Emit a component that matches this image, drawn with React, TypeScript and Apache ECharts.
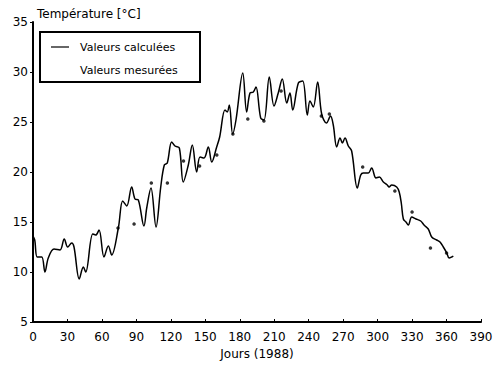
import React, { useEffect, useRef } from "react";
import * as echarts from "echarts";

const calcDays = [0, 1.5, 3.7, 7.6, 10.4, 13.3, 18.3, 23.5, 27.2, 30.2, 33.7, 35.7, 40.3, 43.8, 45.9, 52, 54.6, 57.5, 61.8, 65.6, 68.5, 74.3, 78.1, 81.6, 85.9, 88.8, 91.7, 96.6, 99, 102.7, 107.1, 111.2, 114.3, 116.9, 120.7, 123.6, 127.4, 130.8, 135.2, 138.7, 142.5, 145.4, 148.9, 152.6, 155.6, 159.9, 162.5, 167.1, 169.1, 170.9, 173.8, 176.7, 182.6, 186, 188.9, 191.8, 194.1, 198.2, 201.1, 205.7, 209.8, 213.5, 217, 220.9, 223.7, 226.1, 231, 234.8, 238.8, 241.1, 244, 247.8, 251.3, 255.5, 259, 261.4, 264.4, 267.3, 269.3, 271.6, 274.5, 277.4, 282.3, 285.3, 287.5, 291.9, 294.8, 298.6, 301.5, 305, 308.4, 310, 312.3, 316.6, 318.8, 320.6, 322.4, 324.7, 326.7, 329.7, 333.4, 337.5, 340.4, 344.1, 347.1, 351.4, 354.3, 357.2, 360.2, 362.2, 364.5, 365.9];
const calcTemps = [13.6, 13.2, 11.5, 11.5, 10.0, 11.4, 12.3, 12.2, 13.3, 12.5, 12.9, 12.5, 9.3, 10.5, 10.0, 13.8, 13.7, 14.2, 11.5, 12.6, 11.7, 14.4, 17.1, 16.6, 18.5, 17.3, 17.2, 14.6, 16.4, 18.4, 14.5, 18.5, 20.7, 20.9, 23.0, 22.6, 22.4, 19.0, 20.7, 22.7, 20.0, 21.5, 21.4, 22.5, 21.0, 22.5, 23.5, 26.2, 26.0, 26.7, 23.8, 25.2, 29.9, 26.0, 27.9, 28.0, 28.5, 25.4, 25.2, 29.5, 26.6, 27.9, 29.3, 26.9, 27.9, 26.2, 28.9, 29.1, 25.7, 27.1, 26.5, 29.0, 25.8, 24.9, 25.6, 24.7, 22.5, 23.4, 22.9, 23.4, 22.6, 22.1, 18.4, 19.7, 19.9, 19.9, 20.4, 19.4, 19.5, 19.0, 18.7, 18.5, 18.7, 18.5, 18.0, 16.9, 15.3, 15.0, 14.7, 15.5, 15.3, 15.1, 14.7, 14.3, 13.5, 13.2, 13.0, 12.5, 11.9, 11.4, 11.5, 11.6];

const measDays = [74, 88, 103, 117, 131, 145, 160, 174, 187, 201, 216, 251, 258, 287, 315, 330, 346, 360];
const measTemps = [14.4, 14.8, 18.9, 18.9, 21.1, 20.6, 21.7, 23.8, 25.3, 25.1, 28.1, 25.6, 25.8, 20.5, 18.1, 16.0, 12.4, 11.9];

const title = "Température [°C]";
const xName = "Jours (1988)";
const legendCalc = "Valeurs calculées";
const legendMeas = "Valeurs mesurées";

const FONT = "'Liberation Sans', Arial, sans-serif";
const WIDE = "'DejaVu Sans', sans-serif";

export default function App() {
  const ref = useRef<HTMLDivElement>(null);
  useEffect(() => {
    const chart = echarts.init(ref.current!, null, { renderer: "svg" });
    chart.setOption({
      animation: false,
      backgroundColor: "#ffffff",
      title: {
        text: title,
        left: 32,
        top: 3,
        textStyle: { fontFamily: WIDE, fontSize: 12, fontWeight: "normal", color: "#000" },
      },
      grid: { left: 33, right: 19, top: 22, bottom: 47 },
      xAxis: {
        type: "value",
        min: 0,
        max: 390,
        interval: 30,
        name: xName,
        nameLocation: "middle",
        nameGap: 26,
        nameTextStyle: { fontFamily: WIDE, fontSize: 12, color: "#000" },
        axisLine: { lineStyle: { color: "#000", width: 2 } },
        axisTick: { inside: true, length: 3, lineStyle: { color: "#000", width: 1 } },
        axisLabel: { margin: 9, fontFamily: WIDE, fontSize: 12, color: "#000" },
        splitLine: { show: false },
      },
      yAxis: {
        type: "value",
        min: 5,
        max: 35,
        interval: 5,
        axisLine: { show: true, lineStyle: { color: "#000", width: 2 } },
        axisTick: { show: true, inside: false, length: 3, lineStyle: { color: "#000", width: 1 } },
        axisLabel: { margin: 5, fontFamily: WIDE, fontSize: 12, color: "#000" },
        splitLine: { show: false },
      },
      series: [
        {
          name: legendCalc,
          type: "line",
          data: calcDays.map((d, i) => [d, calcTemps[i]]),
          smooth: 0.35,
          showSymbol: false,
          lineStyle: { color: "#000", width: 1.5 },
        },
        {
          name: legendMeas,
          type: "scatter",
          data: measDays.map((d, i) => [d, measTemps[i]]),
          symbol: "circle",
          symbolSize: 3.5,
          itemStyle: { color: "#000" },
          z: 5,
        },
      ],
      graphic: [
        {
          type: "rect",
          shape: { x: 40, y: 32, width: 160, height: 50 },
          style: { fill: "#fff", stroke: "#000", lineWidth: 2 },
          z: 10,
        },
        {
          type: "line",
          shape: { x1: 51, y1: 47, x2: 69, y2: 47 },
          style: { stroke: "#000", lineWidth: 1.2 },
          z: 11,
        },
        {
          type: "text",
          x: 80,
          y: 47,
          style: { text: legendCalc, fontFamily: WIDE, fontSize: 11, fill: "#000", verticalAlign: "middle" },
          z: 11,
        },
        {
          type: "text",
          x: 80,
          y: 70,
          style: { text: legendMeas, fontFamily: WIDE, fontSize: 11, fill: "#000", verticalAlign: "middle" },
          z: 11,
        },
      ],
    });
    return () => chart.dispose();
  }, []);
  return <div ref={ref} style={{ position: "fixed", left: 0, top: 0, width: 500, height: 369 }} />;
}
